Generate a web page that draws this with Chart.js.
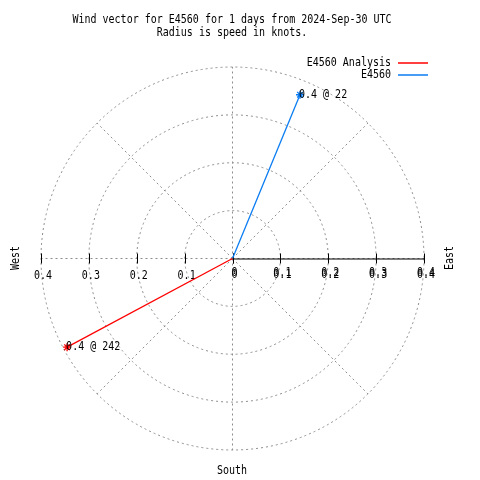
<!DOCTYPE html>
<html>
<head>
<meta charset="utf-8">
<script src="https://cdn.jsdelivr.net/npm/chart.js@4"></script>
<style>
  body { margin: 0; background: #fff; }
  canvas { display: block; }
</style>
</head>
<body>
<canvas id="chart" width="480" height="480"></canvas>
<script>
// data
const seriesNames = ["E4560 Analysis", "E4560"];
const speeds = [0.392, 0.37];        // knots
const directions = [241.8, 22.4];    // degrees, clockwise from north
const rTicks = [0, 0.1, 0.2, 0.3, 0.4];
const spokeAngles = [0, 45, 90, 135, 180, 225, 270, 315];
const titleLines = [
    "Wind vector for E4560 for 1 days from 2024-Sep-30 UTC",
    "Radius is speed in knots."
];
const seriesColors = ["#ff0000", "#0a7cf2"];

const FONT = "10px 'DejaVu Sans Mono', 'Liberation Mono', monospace";
const rMax = rTicks[rTicks.length - 1];

function toXY(speed, dir) {
    const a = dir * Math.PI / 180;
    return { x: speed * Math.sin(a), y: speed * Math.cos(a) };
}

// text a bit taller than the font, like the bitmap font of the original
function text(ctx, t, x, y, rot) {
    ctx.save();
    ctx.translate(x, y);
    if (rot) ctx.rotate(rot);
    ctx.scale(1, 1.2);
    ctx.fillText(t, 0, 0);
    ctx.restore();
}

const datasets = seriesNames.map((name, i) => ({
    label: name,
    data: [{ x: 0, y: 0 }, toXY(speeds[i], directions[i])],
    showLine: true,
    borderColor: seriesColors[i],
    backgroundColor: seriesColors[i],
    borderWidth: 1.3,
    pointStyle: "star",
    pointRadius: [0, 4],
    pointBorderWidth: 1.3,
    pointBorderColor: seriesColors[i]
}));

// polar grid, axis and texts
const polarPlugin = {
    id: "polar",
    beforeDatasetsDraw(chart) {
        const { ctx, scales: { x, y } } = chart;
        const cx = x.getPixelForValue(0), cy = y.getPixelForValue(0);
        const px = v => x.getPixelForValue(v) - cx;

        ctx.save();
        ctx.strokeStyle = "#8c8c8c";
        ctx.lineWidth = 1;
        ctx.setLineDash([2, 3]);
        rTicks.slice(1).forEach(r => {
            ctx.beginPath();
            ctx.arc(cx, cy, px(r), 0, Math.PI * 2);
            ctx.stroke();
        });
        spokeAngles.forEach(a => {
            const p = toXY(rMax, a);
            ctx.beginPath();
            ctx.moveTo(cx, cy);
            ctx.lineTo(x.getPixelForValue(p.x), y.getPixelForValue(p.y));
            ctx.stroke();
        });
        ctx.setLineDash([]);

        // solid radial axis to the east
        ctx.strokeStyle = "#000";
        ctx.beginPath();
        ctx.moveTo(cx, cy + 0.5);
        ctx.lineTo(x.getPixelForValue(rMax), cy + 0.5);
        ctx.stroke();
        rTicks.forEach(r => {
            [r, -r].forEach(v => {
                const tx = Math.round(x.getPixelForValue(v)) + 0.5;
                ctx.beginPath();
                ctx.moveTo(tx, cy - 5);
                ctx.lineTo(tx, cy + 5);
                ctx.stroke();
            });
        });

        // tick labels
        ctx.fillStyle = "#000";
        ctx.font = FONT;
        ctx.textAlign = "center";
        ctx.textBaseline = "middle";
        rTicks.forEach(r => {
            const txt = r === 0 ? "0" : r.toFixed(1);
            if (r > 0) {
                text(ctx, txt, x.getPixelForValue(-r) + 2, cy + 17);
            }
            const rx = x.getPixelForValue(r) + 2;
            text(ctx, txt, rx, cy + 16);
            text(ctx, txt, rx, cy + 14);
        });
        ctx.restore();
    },
    afterDatasetsDraw(chart) {
        const { ctx } = chart;
        ctx.save();
        ctx.font = FONT;
        ctx.fillStyle = "#000";
        ctx.textBaseline = "middle";
        ctx.textAlign = "left";
        seriesNames.forEach((n, i) => {
            const pt = chart.getDatasetMeta(i).data[1];
            const txt = speeds[i].toFixed(1) + " @ " + Math.round(directions[i]);
            text(ctx, txt, pt.x - 1, pt.y);
        });

        // title
        ctx.textAlign = "center";
        titleLines.forEach((t, i) => text(ctx, t, 232, 20 + i * 13));

        // legend
        seriesNames.forEach((n, i) => {
            const ly = 63 + i * 12;
            ctx.textAlign = "right";
            ctx.fillStyle = "#000";
            text(ctx, n, 391, ly);
            ctx.strokeStyle = seriesColors[i];
            ctx.lineWidth = 1.5;
            ctx.beginPath();
            ctx.moveTo(398, ly);
            ctx.lineTo(428, ly);
            ctx.stroke();
        });

        // compass labels
        ctx.fillStyle = "#000";
        ctx.textAlign = "center";
        text(ctx, "South", 232, 471);
        text(ctx, "West", 16, 258, -Math.PI / 2);
        text(ctx, "East", 450, 258, -Math.PI / 2);
        ctx.restore();
    }
};

new Chart(document.getElementById("chart"), {
    type: "scatter",
    data: { datasets },
    options: {
        responsive: false,
        animation: false,
        devicePixelRatio: 1,
        layout: { padding: { left: 41, right: 56, top: 67, bottom: 30 } },
        scales: {
            x: { type: "linear", min: -rMax, max: rMax, display: false },
            y: { type: "linear", min: -rMax, max: rMax, display: false }
        },
        plugins: {
            legend: { display: false },
            title: { display: false },
            tooltip: { enabled: false }
        }
    },
    plugins: [polarPlugin]
});
</script>
</body>
</html>
